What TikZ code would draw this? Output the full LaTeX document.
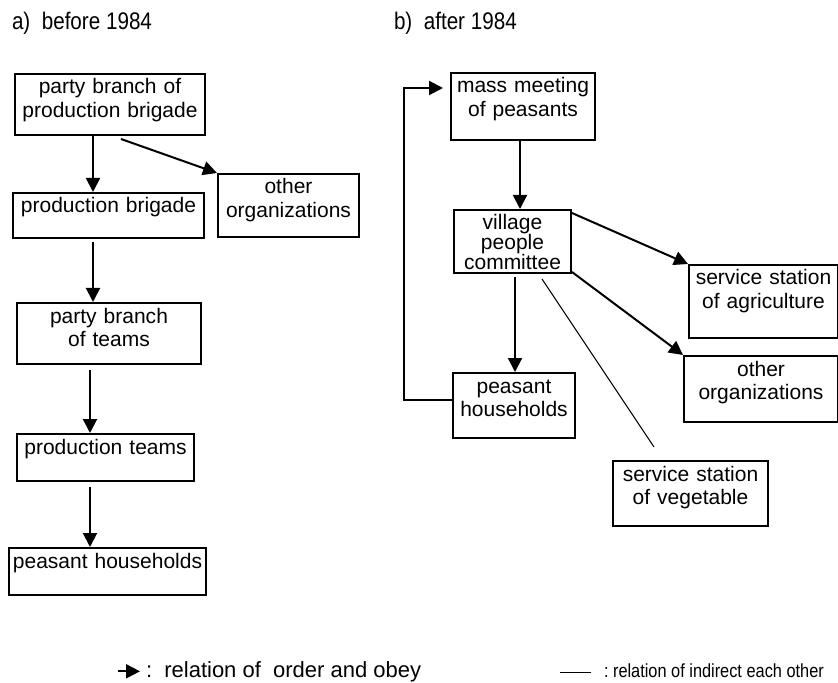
\documentclass[tikz,border=0pt]{standalone}
\usepackage{fontspec}
\setmainfont{Liberation Sans}
\newfontfamily\narrowfont[FakeStretch=0.86]{Liberation Sans}
\usetikzlibrary{arrows.meta,calc}

\begin{document}
\begin{tikzpicture}[x=0.5pt,y=-0.5pt,>={Triangle[length=7pt,width=7pt]},line width=1pt]
\tikzstyle{box}=[draw,anchor=north west,inner sep=0pt,align=center,text height=10pt,font=\fontsize{10.5}{11.75}\selectfont]
\tikzstyle{head}=[anchor=base west,inner sep=0pt,font=\narrowfont\fontsize{12}{14}\selectfont]
\tikzstyle{thin}=[line width=0.5pt]
\useasboundingbox (0,0) rectangle (838,683);
% a) before 1984
\node[head] (ta) at (11,30) {a)\ \ before 1984};
\node[box,text width=95pt,text depth=20.5pt] (pb1) at (14,73) {party branch of\\production brigade};
\node[box,text width=70.5pt,text depth=21.5pt] (ob) at (217,173) {other\\organizations};
\node[box,text width=95.5pt,text depth=12.5pt] (pbr) at (12,192) {production brigade};
\node[box,text width=92pt,text depth=20.5pt] (pbt) at (16,302) {party branch\\of teams};
\node[box,text width=88.5pt,text depth=13.5pt] (pt) at (16,433) {production teams};
\node[box,text width=98.5pt,text depth=13.5pt] (ph) at (8,547) {peasant households};
\draw[->] ([xshift=-8.5pt]pb1.south) -- ([xshift=-7.75pt]pbr.north);
\draw[->] ([xshift=5.5pt,yshift=-1.5pt]pb1.south) -- (ob.north west);
\draw[->] ([xshift=-7.75pt,yshift=-1.5pt]pbr.south) -- ([xshift=-8pt]pbt.north);
\draw[->] ([xshift=-9.5pt,yshift=-2.5pt]pbt.south) -- ([xshift=-7.75pt]pt.north);
\draw[->] ([xshift=-7.75pt,yshift=-2.5pt]pt.south) -- ([xshift=-8.75pt]ph.north);
% b) after 1984
\node[head] (tb) at (393,30) {b)\ \ after 1984};
\node[box,text width=72pt,text depth=23.5pt] (mm) at (450,72) {mass meeting\\of peasants};
\node[box,text width=58.5pt,text depth=21.5pt,font=\fontsize{10.5}{10}\selectfont] (vpc) at (453,209) {village\\people\\committee};
\node[box,text width=74.5pt,text depth=26.5pt] (ssa) at (688,264) {service station\\of agriculture};
\node[box,text width=61pt,text depth=22.5pt] (pho) at (452,372) {peasant\\households};
\node[box,text width=77pt,text depth=23pt] (oo) at (683,355) {other\\organizations};
\node[box,text width=77.5pt,text depth=22.5pt] (ssv) at (612,460) {service station\\of vegetable};
\draw[->] ([xshift=-1.5pt]mm.south) -- ([xshift=3.75pt]vpc.north);
\draw[->] ([yshift=-2pt]vpc.north east) -- (ssa.north west);
\draw[->] ([yshift=1pt]vpc.south east) -- (oo.north west);
\draw[->] ([xshift=1.25pt,yshift=-1.5pt]vpc.south) -- ([xshift=0.5pt]pho.north);
\draw[->,shorten >=3.5pt] ([yshift=2.75pt]pho.west) -- ++(-48,0) |- ([yshift=9.25pt]mm.west);
\draw[thin] ($(vpc.south)+(29.5,5)$) -- ($(ssv.north)+(-36.5,-13)$);
% key
\node[anchor=base west,inner sep=0pt,font=\fontsize{11}{12}\selectfont] (key1) at (145,677) {:\ \ relation of\ \ order and obey};
\draw[->] ($(key1.west)+(-27,0)$) -- ([xshift=-2.5pt]key1.west);
\node[anchor=base west,inner sep=0pt,font=\narrowfont\fontsize{9.5}{12}\selectfont] (key2) at (603,677) {:\ relation of indirect each other};
\draw[thin] ($(key2.west)+(-43,2)$) -- ($(key2.west)+(-12,2)$);
\end{tikzpicture}
\end{document}
